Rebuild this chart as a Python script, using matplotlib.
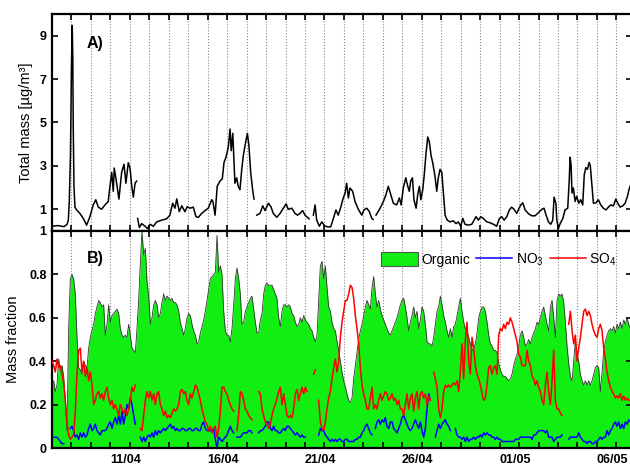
import numpy as np
import matplotlib
matplotlib.use("Agg")
import matplotlib.pyplot as plt
import matplotlib.transforms as mtransforms
from matplotlib.patches import Patch
from matplotlib.lines import Line2D

plt.rcParams['font.family'] = ['Liberation Sans', 'DejaVu Sans']
plt.rcParams['mathtext.default'] = 'regular'

nan = np.nan

# panel A: total mass, time in days after 07/04 00:00 (nan = gap in record)
mass_t = [0.00, 0.31, 0.62, 0.77, 0.84, 0.89, 0.95, 1.00, 1.04, 1.07, 1.09, 1.13,
          1.18, 1.27, 1.44, 1.61, 1.78, 1.95, 2.12, 2.25, 2.38, 2.55, 2.72, 2.89,
          2.98, 3.07, 3.15, 3.20, 3.29, 3.44, 3.58, 3.70, 3.80, 3.92, 4.01, 4.10,
          4.18, 4.27, 4.35, 4.38, 4.40, 4.49, 4.61, 4.78, 4.90, 5.04, 5.21, 5.38,
          5.64, 5.89, 6.06, 6.20, 6.32, 6.41, 6.54, 6.67, 6.83, 6.95, 7.09, 7.26,
          7.40, 7.52, 7.69, 7.86, 8.03, 8.21, 8.27, 8.38, 8.49, 8.63, 8.75, 8.84,
          8.94, 9.06, 9.15, 9.21, 9.29, 9.35, 9.40, 9.49, 9.57, 9.66, 9.75, 9.83,
          9.92, 10.04, 10.12, 10.21, 10.31, 10.38, 10.45, 10.52, 10.69, 10.83, 10.95, 11.12,
          11.25, 11.37, 11.55, 11.72, 11.89, 12.03, 12.14, 12.32, 12.49, 12.61, 12.74, 12.88,
          13.00, 13.12, 13.21, 13.30, 13.43, 13.52, 13.60, 13.74, 13.86, 14.03, 14.20, 14.32,
          14.46, 14.59, 14.71, 14.84, 14.94, 15.06, 15.14, 15.23, 15.31, 15.45, 15.57, 15.74,
          15.92, 16.03, 16.17, 16.31, 16.43, 16.50, 16.58, 16.65, 16.86, 17.03, 17.16, 17.28,
          17.41, 17.54, 17.71, 17.85, 17.94, 18.05, 18.18, 18.28, 18.36, 18.43, 18.52, 18.60,
          18.71, 18.79, 18.88, 18.95, 19.05, 19.13, 19.22, 19.31, 19.39, 19.48, 19.56, 19.68,
          19.77, 19.85, 19.94, 20.03, 20.11, 20.20, 20.31, 20.45, 20.62, 20.76, 20.88, 21.00,
          21.11, 21.22, 21.39, 21.57, 21.69, 21.79, 21.91, 22.03, 22.16, 22.34, 22.51, 22.68,
          22.85, 22.99, 23.11, 23.23, 23.37, 23.50, 23.62, 23.74, 23.88, 24.00, 24.09, 24.19,
          24.31, 24.48, 24.65, 24.82, 24.99, 25.17, 25.28, 25.39, 25.51, 25.63, 25.73, 25.80,
          25.89, 25.94, 26.02, 26.11, 26.25, 26.36, 26.50, 26.58, 26.62, 26.67, 26.72, 26.79,
          26.88, 26.96, 27.07, 27.17, 27.27, 27.35, 27.43, 27.51, 27.60, 27.66, 27.75, 27.82,
          27.96, 28.07, 28.20, 28.33, 28.47, 28.59, 28.71, 28.85, 28.97, 29.07, 29.19, 29.33,
          29.45, 29.57, 29.67, 29.81]
mass_v = [0.22, 0.25, 0.20, 0.30, 0.50, 1.40, 3.50, 7.50, 9.47, 8.00, 5.00, 2.06,
          1.10, 0.97, 0.80, 0.58, 0.27, 0.66, 1.20, 1.44, 1.10, 1.00, 1.20, 1.36,
          2.06, 2.70, 1.83, 2.90, 2.40, 1.47, 2.70, 3.08, 2.20, 3.15, 2.90, 2.06,
          1.56, 2.20, 2.30, nan, 0.58, 0.16, 0.34, 0.22, 0.11, 0.31, 0.22, 0.42,
          0.50, 0.56, 0.73, 1.28, 1.05, 1.48, 0.89, 1.16, 0.89, 1.12, 1.05, 1.10,
          0.66, 0.63, 0.81, 0.94, 1.05, 1.44, 1.36, 0.73, 2.06, 2.30, 2.40, 3.16,
          3.40, 3.86, 4.70, 3.70, 4.50, 3.30, 2.20, 2.45, 2.06, 1.90, 2.84, 3.47,
          3.94, 4.50, 3.94, 2.70, 1.90, 1.47, nan, 0.73, 0.81, 1.16, 0.94, 1.28,
          1.12, 0.81, 0.63, 0.81, 1.05, 1.25, 1.00, 1.05, 0.81, 0.73, 0.81, 0.94,
          0.73, 0.63, 0.56, nan, 0.73, 1.20, 0.50, 0.22, 0.42, 0.22, 0.19, 0.19,
          0.58, 0.97, 0.73, 1.10, 1.44, 1.75, 2.20, 1.52, 1.98, 1.83, 1.36, 1.00,
          0.73, 0.97, 1.05, 0.89, 0.58, 0.53, nan, 0.73, 1.05, 1.36, 1.67, 2.06,
          1.67, 1.28, 1.20, 1.52, 1.20, 1.98, 2.45, 2.06, 1.83, 2.30, 2.45, 1.44,
          1.05, 1.67, 2.06, 1.44, 1.90, 2.60, 3.60, 4.33, 4.10, 3.47, 3.16, 2.53,
          1.83, 2.45, 2.84, 2.70, 1.75, 0.73, 0.50, 0.42, 0.47, 0.34, 0.42, 0.22,
          0.58, 0.31, 0.27, 0.31, 0.50, 0.66, 0.50, 0.66, 0.58, 0.42, 0.38, 0.31,
          0.22, 0.58, 0.66, 0.50, 0.66, 0.97, 1.10, 1.00, 0.81, 1.05, 1.20, 1.30,
          0.97, 0.80, 0.70, 0.70, 0.84, 1.00, 1.05, 0.73, 0.42, 0.31, 0.50, 1.56,
          1.28, 0.50, 0.11, 0.34, 0.58, 0.97, 1.05, 2.38, 3.40, 3.08, 1.75, 1.98,
          1.36, 1.60, 1.28, 1.44, 1.20, 2.60, 2.92, 2.84, 3.16, 3.00, 2.06, 1.28,
          1.30, 1.44, 1.20, 1.05, 0.97, 1.10, 1.20, 1.16, 1.47, 1.28, 1.10, 1.16,
          1.28, 1.60, 1.98, 2.30]

# panel B: mass fractions, one value every ~2.06 h from 07/04 00:00
step_h = 2.0555
organic = [0.30, 0.31, 0.26, 0.29, 0.41, 0.36, 0.38, 0.33, 0.22, 0.08, 0.55, 0.78,
           0.80, 0.78, 0.71, 0.51, 0.37, 0.36, 0.34, 0.40, 0.38, 0.37, 0.46, 0.51,
           0.54, 0.57, 0.62, 0.65, 0.68, 0.67, 0.65, 0.66, 0.52, 0.57, 0.66, 0.58,
           0.61, 0.62, 0.63, 0.64, 0.62, 0.55, 0.52, 0.51, 0.52, 0.51, 0.57, 0.52,
           0.46, 0.45, 0.44, 0.55, 0.68, 0.85, 1.00, 0.89, 0.92, 0.77, 0.70, 0.57,
           0.60, 0.66, 0.68, 0.66, 0.60, 0.62, 0.67, 0.71, 0.68, 0.70, 0.69, 0.68,
           0.69, 0.67, 0.67, 0.66, 0.63, 0.58, 0.55, 0.52, 0.55, 0.60, 0.62, 0.61,
           0.57, 0.54, 0.52, 0.48, 0.49, 0.53, 0.56, 0.59, 0.63, 0.68, 0.73, 0.78,
           0.79, 0.80, 0.81, 0.98, 0.81, 0.84, 0.80, 0.63, 0.54, 0.52, 0.52, 0.49,
           0.55, 0.66, 0.78, 0.83, 0.78, 0.71, 0.57, 0.58, 0.63, 0.65, 0.67, 0.69,
           0.70, 0.64, 0.58, 0.53, 0.53, 0.59, 0.62, 0.71, 0.75, 0.76, 0.75, 0.75,
           0.75, 0.73, 0.71, 0.69, 0.60, 0.56, 0.63, 0.66, 0.66, 0.65, 0.66, 0.65,
           0.62, 0.61, 0.58, 0.56, 0.57, 0.60, 0.58, 0.61, 0.59, 0.58, 0.57, 0.55,
           0.54, 0.51, 0.49, 0.52, 0.68, 0.84, 0.86, 0.78, 0.84, 0.74, 0.65, 0.63,
           0.58, 0.55, 0.54, 0.49, 0.45, 0.40, 0.35, 0.31, 0.28, 0.25, 0.22, 0.21,
           0.23, 0.32, 0.38, 0.44, 0.50, 0.54, 0.57, 0.61, 0.65, 0.68, 0.66, 0.64,
           0.74, 0.79, 0.71, 0.65, 0.68, 0.64, 0.61, 0.59, 0.57, 0.55, 0.53, 0.52,
           0.54, 0.56, 0.58, 0.60, 0.63, 0.66, 0.68, 0.69, 0.65, 0.60, 0.54, 0.58,
           0.61, 0.65, 0.60, 0.63, 0.55, 0.59, 0.65, 0.63, 0.57, 0.49, 0.48, 0.48,
           0.47, 0.51, 0.57, 0.63, 0.65, 0.70, 0.66, 0.61, 0.58, 0.54, 0.51, 0.55,
           0.51, 0.56, 0.57, 0.61, 0.65, 0.69, 0.63, 0.58, 0.55, 0.54, 0.51, 0.48,
           0.45, 0.46, 0.48, 0.53, 0.60, 0.63, 0.65, 0.65, 0.63, 0.58, 0.52, 0.48,
           0.47, 0.45, 0.45, 0.44, 0.39, 0.36, 0.34, 0.33, 0.33, 0.32, 0.31, 0.32,
           0.34, 0.38, 0.41, 0.43, 0.47, 0.52, 0.54, 0.51, 0.47, 0.48, 0.50, 0.48,
           0.51, 0.53, 0.55, 0.58, 0.57, 0.60, 0.63, 0.65, 0.61, 0.57, 0.54, 0.65,
           0.68, 0.60, 0.51, 0.68, 0.71, 0.70, 0.71, 0.67, 0.58, 0.47, 0.39, 0.33,
           0.31, 0.40, 0.50, 0.43, 0.40, 0.34, 0.31, 0.29, 0.31, 0.29, 0.31, 0.29,
           0.31, 0.34, 0.37, 0.38, 0.37, 0.26, 0.35, 0.45, 0.49, 0.52, 0.54, 0.55,
           0.54, 0.56, 0.53, 0.57, 0.55, 0.58, 0.55, 0.59, 0.57, 0.60, 0.57, 0.55]
no3 = [0.05, 0.05, 0.05, 0.05, 0.04, 0.03, 0.02, 0.02, nan, nan, nan, 0.09,
       0.10, 0.08, 0.05, 0.06, 0.04, 0.07, 0.05, 0.07, 0.05, 0.06, 0.09, 0.11,
       0.08, 0.09, 0.11, 0.08, 0.07, 0.06, 0.08, 0.08, 0.08, 0.09, 0.11, 0.12,
       0.09, 0.12, 0.14, 0.11, 0.15, 0.11, 0.17, 0.11, 0.15, 0.20, 0.18, 0.23,
       0.20, 0.15, 0.11, nan, nan, 0.05, 0.03, 0.05, 0.03, 0.05, 0.06, 0.05,
       0.07, 0.05, 0.08, 0.06, 0.08, 0.07, 0.08, 0.09, 0.08, 0.09, 0.10, 0.11,
       0.09, 0.10, 0.08, 0.09, 0.08, 0.08, 0.09, 0.09, 0.08, 0.08, 0.09, 0.09,
       0.08, 0.08, 0.09, 0.09, 0.08, 0.08, 0.11, 0.12, 0.09, 0.08, 0.08, 0.08,
       0.08, 0.09, 0.04, 0.00, 0.05, 0.04, 0.03, 0.04, 0.05, 0.06, 0.08, 0.10,
       0.08, 0.07, nan, 0.05, 0.05, 0.05, 0.06, 0.07, 0.07, 0.07, 0.08, 0.08,
       0.07, nan, nan, nan, 0.07, 0.08, 0.08, 0.09, 0.10, 0.12, 0.12, 0.09,
       0.08, 0.10, 0.08, 0.08, 0.07, 0.07, 0.08, 0.09, 0.08, 0.10, 0.10, 0.09,
       0.08, 0.07, 0.06, 0.07, 0.06, 0.05, 0.06, 0.05, 0.05, nan, nan, nan,
       nan, nan, 0.04, nan, 0.06, 0.09, 0.08, 0.08, 0.06, 0.05, 0.04, 0.03,
       0.04, 0.03, 0.04, 0.03, 0.04, 0.04, 0.03, 0.03, 0.04, 0.04, 0.03, 0.03,
       0.03, 0.03, 0.04, 0.04, 0.05, 0.05, 0.07, 0.08, 0.10, 0.11, 0.09, 0.07,
       0.06, nan, 0.09, 0.12, 0.13, 0.11, 0.13, 0.12, 0.14, 0.10, 0.09, 0.12,
       0.12, 0.09, 0.08, 0.07, 0.09, 0.11, 0.14, 0.15, 0.13, 0.11, 0.09, 0.08,
       0.09, 0.11, 0.13, 0.11, 0.09, 0.12, 0.08, 0.05, 0.09, 0.18, 0.25, 0.22,
       nan, nan, 0.05, 0.08, 0.11, 0.09, 0.11, 0.12, 0.13, 0.11, 0.10, 0.08,
       nan, nan, 0.09, 0.06, 0.05, 0.05, 0.04, 0.05, 0.03, 0.05, 0.03, 0.04,
       0.04, 0.05, 0.04, 0.05, 0.05, 0.06, 0.05, 0.07, 0.06, 0.07, 0.06, 0.06,
       0.05, 0.05, 0.04, 0.05, 0.04, 0.04, 0.03, 0.03, 0.03, 0.03, 0.03, 0.03,
       0.03, 0.03, 0.04, 0.04, 0.04, 0.05, 0.05, 0.05, 0.05, 0.05, 0.05, 0.05,
       0.04, 0.06, 0.06, 0.07, 0.08, 0.08, 0.08, 0.08, 0.07, 0.08, 0.05, 0.05,
       0.05, 0.03, 0.04, 0.05, 0.05, 0.05, 0.06, nan, nan, nan, 0.04, 0.05,
       0.05, 0.05, 0.05, 0.05, 0.07, 0.05, 0.04, 0.03, 0.03, 0.02, 0.03, 0.03,
       0.02, 0.02, 0.03, 0.03, 0.04, 0.05, 0.04, 0.05, 0.05, 0.08, 0.06, 0.08,
       0.09, 0.11, 0.12, 0.10, 0.12, 0.09, 0.11, 0.09, 0.12, 0.11, 0.13, 0.12]
so4 = [0.40, 0.38, 0.35, 0.41, 0.37, 0.38, 0.34, 0.30, 0.22, 0.12, 0.06, 0.04,
       0.05, 0.06, 0.17, 0.34, 0.45, 0.46, 0.35, 0.40, 0.33, 0.37, 0.31, 0.35,
       0.29, 0.20, 0.22, 0.25, 0.26, 0.23, 0.25, 0.22, 0.26, 0.28, 0.23, 0.20,
       0.22, 0.18, 0.20, 0.18, 0.15, 0.20, 0.18, 0.16, 0.18, 0.15, 0.18, 0.22,
       0.28, 0.26, 0.29, nan, nan, 0.09, 0.08, 0.15, 0.22, 0.26, 0.23, 0.26,
       0.22, 0.25, 0.20, 0.25, 0.26, 0.20, 0.18, 0.15, 0.17, 0.14, 0.15, 0.14,
       0.16, 0.18, 0.17, 0.18, 0.20, 0.26, 0.27, 0.25, 0.26, 0.22, 0.20, 0.25,
       0.23, 0.26, 0.29, 0.28, 0.25, 0.22, 0.18, 0.15, 0.12, 0.11, 0.08, 0.10,
       0.07, 0.09, 0.10, 0.05, 0.09, 0.17, 0.28, 0.28, 0.26, 0.25, 0.22, 0.20,
       0.18, 0.17, nan, 0.08, 0.15, 0.26, 0.25, 0.22, 0.18, 0.17, 0.15, 0.14,
       0.13, nan, nan, nan, 0.26, 0.25, 0.18, 0.15, 0.12, 0.11, 0.09, 0.11,
       0.15, 0.18, 0.20, 0.23, 0.26, 0.28, 0.20, 0.25, 0.20, 0.15, 0.14, 0.15,
       0.14, 0.18, 0.25, 0.27, 0.22, 0.25, 0.28, 0.25, 0.28, 0.26, nan, nan,
       nan, 0.34, 0.36, nan, 0.22, 0.12, 0.09, 0.08, 0.12, 0.18, 0.23, 0.26,
       0.32, 0.37, 0.41, 0.35, 0.40, 0.51, 0.58, 0.63, 0.68, 0.68, 0.71, 0.75,
       0.74, 0.69, 0.61, 0.55, 0.48, 0.37, 0.29, 0.25, 0.22, 0.18, 0.18, 0.23,
       0.28, 0.18, 0.20, 0.18, 0.22, 0.25, 0.22, 0.24, 0.26, 0.25, 0.22, 0.23,
       0.25, 0.22, 0.23, 0.20, 0.22, 0.18, 0.18, 0.15, 0.20, 0.25, 0.18, 0.23,
       0.25, 0.17, 0.23, 0.26, 0.18, 0.25, 0.26, 0.23, 0.25, 0.20, 0.24, 0.22,
       nan, 0.35, 0.32, 0.28, 0.18, 0.14, 0.18, 0.26, 0.29, 0.28, 0.29, 0.28,
       0.29, 0.30, 0.29, 0.31, 0.26, 0.35, 0.48, 0.32, 0.50, 0.58, 0.40, 0.34,
       0.51, 0.46, 0.38, 0.34, 0.32, 0.29, 0.25, 0.22, 0.23, 0.29, 0.37, 0.38,
       0.34, 0.37, 0.38, 0.34, 0.52, 0.55, 0.54, 0.57, 0.55, 0.58, 0.57, 0.60,
       0.58, 0.55, 0.52, 0.49, 0.43, 0.42, 0.38, 0.38, 0.38, 0.45, 0.40, 0.38,
       0.33, 0.32, 0.29, 0.31, 0.28, 0.26, 0.22, 0.20, 0.29, 0.35, 0.26, 0.20,
       0.31, 0.45, 0.22, 0.18, 0.18, 0.16, 0.15, nan, nan, nan, 0.57, 0.63,
       0.54, 0.48, 0.52, 0.40, 0.46, 0.51, 0.57, 0.63, 0.64, 0.61, 0.63, 0.61,
       0.57, 0.54, 0.52, 0.51, 0.55, 0.57, 0.54, 0.46, 0.41, 0.35, 0.31, 0.28,
       0.26, 0.25, 0.23, 0.24, 0.23, 0.25, 0.22, 0.24, 0.22, 0.23, 0.22, 0.22]

tick_days = [4, 9, 14, 19, 24, 29]
tick_labels = ['11/04', '16/04', '21/04', '26/04', '01/05', '06/05']
n_days = 30

green = '#11ee11'
t = np.arange(len(organic)) * step_h / 24.0

fig = plt.figure(figsize=(6.3, 4.66), dpi=100)
ax1 = fig.add_axes([0.0825, 0.5043, 0.9206, 0.4657])
ax2 = fig.add_axes([0.0825, 0.0386, 0.9206, 0.4657], sharex=ax1)

for ax in (ax1, ax2):
    for d in range(1, n_days):
        ax.axvline(d, color='#888888', ls=':', lw=0.8, zorder=0.5)
    ax.tick_params(direction='in', top=True, right=True, length=4, width=1.2,
                   labelsize=9, pad=4)
    for s in ax.spines.values():
        s.set_linewidth(1.6)

ax1.plot(mass_t, mass_v, color='black', lw=1.1, zorder=2)
ax1.set_ylim(0, 10)
ax1.set_yticks([1, 3, 5, 7, 9])
ax1.tick_params(labelbottom=False)
ax1.set_ylabel('Total mass [µg/m³]', fontsize=10.5)
ax1.yaxis.set_label_coords(-0.033, 0.5)
ax1.text(0.06, 0.865, 'A)', transform=ax1.transAxes, fontsize=11.5,
         fontweight='bold', va='center')

ax2.fill_between(t, 0, organic, color=green, lw=0, zorder=1)
ax2.plot(t, organic, color='#333333', lw=0.6, zorder=1.5)
ax2.plot(t, no3, color='#0000ff', lw=1.1, zorder=2)
ax2.plot(t, so4, color='#ff0000', lw=1.1, zorder=3)
ax2.set_ylim(0, 1)
ax2.set_yticks([0, 0.2, 0.4, 0.6, 0.8, 1])
ax2.set_yticklabels(['0', '0.2', '0.4', '0.6', '0.8', '1'])
ax2.set_ylabel('Mass fraction', fontsize=10.5)
ax2.yaxis.set_label_coords(-0.055, 0.5)
ax2.text(0.06, 0.873, 'B)', transform=ax2.transAxes, fontsize=11.5,
         fontweight='bold', va='center')

ax2.set_xlim(0, 29.8)
ax2.set_xticks(range(n_days))
ax2.set_xticklabels([tick_labels[tick_days.index(d)] if d in tick_days else ''
                     for d in range(n_days)])

# date labels sit a little left of their tick in the original
shift = mtransforms.ScaledTranslation(-4 / 100, 0, fig.dpi_scale_trans)
for lab in ax2.get_xticklabels():
    lab.set_transform(lab.get_transform() + shift)

for ax in (ax1, ax2):
    for lab in ax.get_xticklabels() + ax.get_yticklabels():
        lab.set_fontweight('bold')

handles = [Patch(facecolor=green, edgecolor='#555555', lw=0.8),
           Line2D([], [], color='#0000ff', lw=1.1),
           Line2D([], [], color='#ff0000', lw=1.1)]
ax2.legend(handles, ['Organic', 'NO$_3$', 'SO$_4$'], loc='upper left',
           bbox_to_anchor=(0.568, 0.905), ncol=3, frameon=False, fontsize=10,
           handlelength=2.6, handleheight=1.2, handletextpad=0.25,
           columnspacing=0.45, borderpad=0, borderaxespad=0)

fig.savefig('out.png', dpi=100)
